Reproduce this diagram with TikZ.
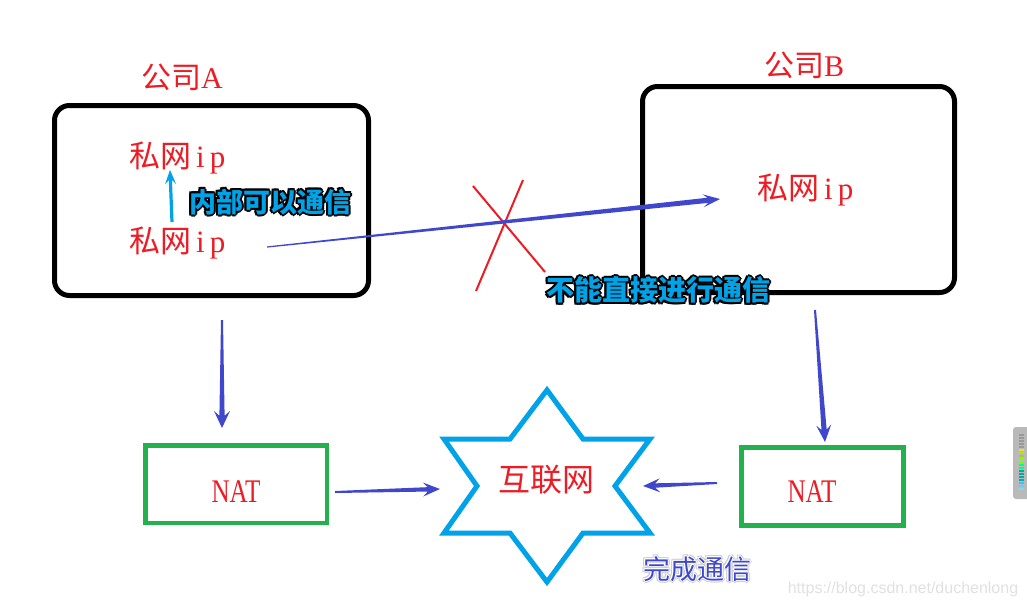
\documentclass[tikz,border=0pt]{standalone}
\usepackage{fontspec}
\usepackage{graphicx}
\usetikzlibrary{calc}
\newfontfamily\cjk{Noto Sans CJK SC}
\newfontfamily\lat{Liberation Serif}
\newfontfamily\wmfont{Liberation Sans}
\definecolor{pred}{RGB}{237,28,36}
\definecolor{pgreen}{RGB}{34,177,76}
\definecolor{pcyan}{RGB}{0,162,232}
\definecolor{pblue}{RGB}{63,72,204}
\definecolor{wmgray}{RGB}{225,225,225}
\newcommand\hw[1]{\makebox[0.56em]{#1}}
\newcommand\pip{{\cjk 私网}{\lat\hw{i}\hw{p}}}
\newcommand\olcopy[3]{\rlap{\hspace*{#1}\raisebox{#2}{#3}}}
\newcommand\olcopies[4]{{\color{#1}\olcopy{#2}{0pt}{#4}\olcopy{-#2}{0pt}{#4}\olcopy{0pt}{#2}{#4}\olcopy{0pt}{-#2}{#4}\olcopy{#3}{#3}{#4}\olcopy{-#3}{#3}{#4}\olcopy{#3}{-#3}{#4}\olcopy{-#3}{-#3}{#4}}}
\newcommand\tarrow[7]{%
  \coordinate (tA) at (#1); \coordinate (tB) at (#2);
  \coordinate (tC) at ($(tB)!#5!(tA)$);
  \coordinate (tD) at ($(tB)!0.72*#5!(tA)$);
  \fill[#7] ($(tA)!#3!90:(tB)$) -- ($(tD)!#4!-90:(tA)$) -- ($(tC)!#6!-90:(tA)$) -- (tB)
    -- ($(tC)!#6!90:(tA)$) -- ($(tD)!#4!90:(tA)$) -- ($(tA)!#3!-90:(tB)$) -- cycle;}
\tikzset{
  redtxt/.style={text=pred, inner sep=0pt, font=\fontsize{31}{36}\selectfont},
  company/.style={draw=black, line width=5pt, rounded corners=15pt, inner sep=0pt},
  natbox/.style={draw=pgreen, line width=4.5pt, inner sep=0pt},
}
\begin{document}
\begin{tikzpicture}[x=1pt, y=-1pt]
\useasboundingbox[fill=white] (0,0) rectangle (1027,606);

% company boxes
\node[company, minimum width=314pt, minimum height=190pt] (boxA) at (211.5,200.5) {};
\node[company, minimum width=312pt, minimum height=206pt] (boxB) at (798.5,189.5) {};
\node[redtxt, font=\fontsize{30}{36}\selectfont] (coA) at (182,77) {{\cjk 公司}{\lat A}};
\node[redtxt, font=\fontsize{30}{36}\selectfont] (coB) at (804,65) {{\cjk 公司}{\lat B}};

% private ip texts
\node[redtxt] (ipA1) at (178,158) {\pip};
\node[redtxt] (ipA2) at (178,243) {\pip};
\node[redtxt] (ipB) at (806,190) {\pip};

% NAT boxes
\node[natbox, minimum width=181.5pt, minimum height=77.5pt] (natA) at (236.25,484.25) {};
\node[natbox, minimum width=162pt, minimum height=78pt] (natB) at (822.5,486.5) {};
\node[redtxt, font=\fontsize{33}{36}\selectfont] (natAt) at (236,492) {\lat\scalebox{0.76}[1]{NAT}};
\node[redtxt, font=\fontsize{33}{36}\selectfont] (natBt) at (812,492) {\lat\scalebox{0.76}[1]{NAT}};

% star (internet)
\draw[pcyan, line width=5pt, line join=miter]
  (547,390) -- (583,439) -- (650,439) -- (615,486) -- (650,533) -- (583,533)
  -- (547,582) -- (510,533) -- (444,533) -- (477,486) -- (444,439) -- (510,439) -- cycle;
\node[redtxt, font=\fontsize{32}{36}\selectfont] (inet) at (546,480) {\cjk 互联网};

% red cross
\coordinate (x1a) at (473,186); \coordinate (x1b) at (545,272);
\coordinate (x2a) at (523,180); \coordinate (x2b) at (476,291);
\draw[pred, line width=2pt] (x1a) -- (x1b);
\draw[pred, line width=2pt] (x2a) -- (x2b);

% connectors
\coordinate (a1s) at (172,222); \coordinate (a1e) at (170,170);
\tarrow{a1s}{a1e}{1.6pt}{1.6pt}{14pt}{5.5pt}{pcyan}
\coordinate (a2s) at (267,247); \coordinate (a2e) at (720,199);
\tarrow{a2s}{a2e}{0.6pt}{2.6pt}{17pt}{6.5pt}{pblue}
\coordinate (a3s) at (222,320); \coordinate (a3e) at (222,428);
\tarrow{a3s}{a3e}{1pt}{2.6pt}{17pt}{8pt}{pblue}
\coordinate (a4s) at (815,310); \coordinate (a4e) at (825,442);
\tarrow{a4s}{a4e}{1pt}{2.6pt}{17pt}{7.5pt}{pblue}
\coordinate (a5s) at (335,492); \coordinate (a5e) at (440,489);
\tarrow{a5s}{a5e}{1pt}{2.2pt}{17pt}{7pt}{pblue}
\coordinate (a6s) at (717,483); \coordinate (a6e) at (643,486);
\tarrow{a6s}{a6e}{1pt}{2.2pt}{17pt}{7pt}{pblue}

% outlined labels
\node[inner sep=0pt, text=pcyan, font=\cjk\bfseries\fontsize{27}{32}\selectfont] (lblIn) at (270,202)
  {\olcopies{black}{2pt}{1.5pt}{内部可以通信}内部可以通信};
\node[inner sep=0pt, text=pcyan, font=\cjk\bfseries\fontsize{28}{32}\selectfont] (lblNo) at (658,290)
  {\olcopies{black}{2pt}{1.5pt}{不能直接进行通信}不能直接进行通信};
\node[inner sep=0pt, text=pblue, font=\cjk\fontsize{27}{32}\selectfont] (lblOk) at (697,569)
  {\olcopies{gray!40}{2pt}{1.5pt}{完成通信}\olcopies{white}{1pt}{0.7pt}{完成通信}完成通信};

% watermark
\node[inner sep=0pt, text=wmgray, font=\wmfont\fontsize{16}{20}\selectfont] (wm) at (903,589) {https://blog.csdn.net/duchenlong};

% scrollbar widget at right edge
\fill[gray!55, rounded corners=3pt] (1013,427) rectangle (1034,499);
\foreach \yy in {435,438,...,447} {\draw[gray!80, line width=1.2pt] (1019,\yy) -- (1024,\yy);}
\foreach \yy/\cc in {450/yellow!80!gray, 453/yellow!75!green, 456/yellow!60!green, 459/green!50!yellow, 462/green!55!yellow, 465/green!50!cyan, 468/green!45!cyan, 471/cyan!50!green, 474/cyan!55!green, 477/cyan!60!green, 480/cyan!70!green, 483/cyan!75!white, 486/cyan!60!white, 489/cyan!50!white} {\draw[\cc, line width=1.2pt] (1019,\yy) -- (1024,\yy);}
\end{tikzpicture}
\end{document}
